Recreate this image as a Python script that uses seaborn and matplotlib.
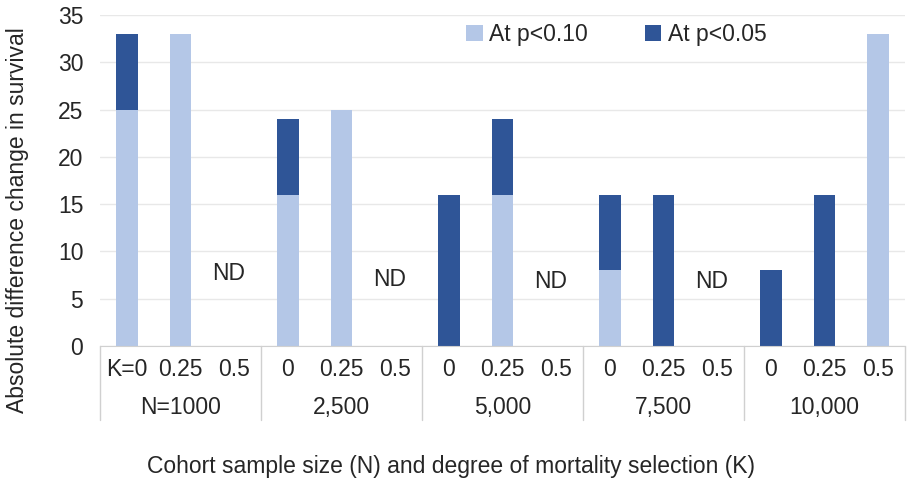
import numpy as np
import pandas as pd
import seaborn as sns
import matplotlib.pyplot as plt
import matplotlib.transforms as mtransforms

# Data
groups = ["N=1000", "2,500", "5,000", "7,500", "10,000"]
k_labels = ["K=0", "0.25", "0.5", "0", "0.25", "0.5", "0", "0.25", "0.5",
            "0", "0.25", "0.5", "0", "0.25", "0.5"]
p10 = [25, 33, 0, 16, 25, 0, 0, 16, 0, 8, 0, 0, 0, 0, 33]   # At p<0.10
p05 = [8, 0, 0, 8, 0, 0, 16, 8, 0, 8, 16, 0, 8, 16, 0]      # At p<0.05
nd_index = [2, 5, 8, 11]
nd_height = [7.7, 7.0, 6.8, 6.8]

light = "#b4c7e7"
dark = "#2f5597"
fs = 16.5

sns.set_style("white")
plt.rcParams["font.family"] = ["Liberation Sans", "DejaVu Sans"]

df = pd.DataFrame({
    "cat": [f"c{i}" for i in range(len(k_labels))],
    "p10": p10,
    "p05": p05,
})
df["total"] = df["p10"] + df["p05"]
order = list(df["cat"])

fig = plt.figure(figsize=(9.24, 4.88), dpi=100)
ax = fig.add_axes([100 / 924, 1 - 346 / 488, 805 / 924, 331 / 488])

# stacked: dark total first, light bottom part drawn over it
sns.barplot(data=df, x="cat", y="total", order=order, color=dark, width=0.4,
            saturation=1, linewidth=0, ax=ax, label="At p<0.05")
sns.barplot(data=df, x="cat", y="p10", order=order, color=light, width=0.4,
            saturation=1, linewidth=0, ax=ax, label="At p<0.10")

ax.set_ylim(0, 35)
ax.set_xlim(-0.5, len(k_labels) - 0.5)
ax.set_yticks(np.arange(0, 36, 5))
ax.yaxis.grid(True, color="#e8e8e8", linewidth=1)
ax.set_axisbelow(True)
for s in ["top", "right", "left"]:
    ax.spines[s].set_visible(False)
ax.spines["bottom"].set_color("#d0d0d0")
ax.tick_params(axis="y", length=0, pad=12, labelsize=fs)
ax.set_xticks([])
ax.set_xlabel("")
ax.set_ylabel("")

# ND annotations
for i, h in zip(nd_index, nd_height):
    ax.text(i - 0.1, h, "ND", ha="center", va="center", fontsize=fs)

# multi-level category axis
trans = mtransforms.blended_transform_factory(ax.transData, ax.transAxes)
for i, lab in enumerate(k_labels):
    ax.text(i, -0.0725, lab, transform=trans, ha="center", va="center", fontsize=fs)
for g, name in enumerate(groups):
    ax.text(3 * g + 1, -0.187, name, transform=trans, ha="center", va="center", fontsize=fs)
for b in range(len(groups) + 1):
    ax.plot([3 * b - 0.5, 3 * b - 0.5], [0, -0.224], transform=trans,
            color="#d0d0d0", linewidth=1, clip_on=False)

fig.text(451 / 924, 1 - 467 / 488,
         "Cohort sample size (N) and degree of mortality selection (K)",
         ha="center", va="center", fontsize=fs)
fig.text(18 / 924, 1 - 220 / 488, "Absolute difference change in survival",
         ha="center", va="center", rotation=90, fontsize=fs)

handles, labels = ax.get_legend_handles_labels()
ax.legend(handles[::-1], labels[::-1], loc="center", bbox_to_anchor=(0.642, 0.94),
          ncol=2, frameon=False, fontsize=fs, handlelength=0.7, handleheight=0.7,
          handletextpad=0.3, columnspacing=2.5)

fig.savefig("out.png", dpi=100)
